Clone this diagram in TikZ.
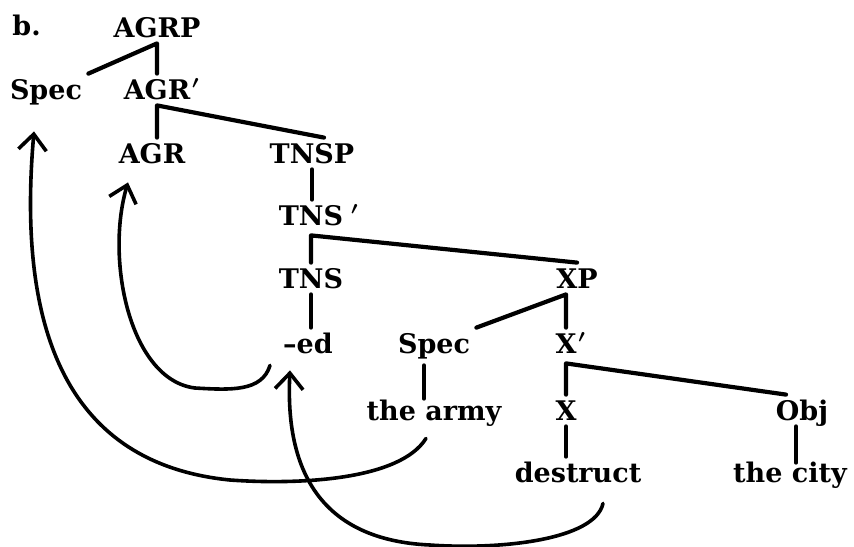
\documentclass[tikz,border=0pt]{standalone}
\usepackage{amsmath}
\usepackage{fontspec}
\newfontfamily\treefont{DejaVu Serif}
\usetikzlibrary{arrows.meta, calc}
\tikzset{
	cat/.style   ={font=\treefont\bfseries\fontsize{13.5}{16}\selectfont, inner sep=3pt, text height=9.5pt, text depth=0pt, anchor=base},
	branch/.style={line width=2.1pt, line cap=round, line join=round},
	move/.style  ={line width=1.8pt, line cap=round, -{Straight Barb[length=8pt, width=14pt]}},
}
\newcommand{\primebar}[1][1pt]{\rlap{\hspace{#1}$^{\boldsymbol\prime}$}}

\begin{document}
\begin{tikzpicture}[x=0.5pt, y=-0.5pt]
	\useasboundingbox (0,0) rectangle (854,546);
	\node[cat, anchor=base west] (lbl) at (6,35) {b.};
	% AGR level
	\node[cat] (agrp)   at (157,37)  {AGRP};
	\node[cat] (spec1)  at (46,99)   {Spec};
	\node[cat] (agrbar) at (157,99)  {AGR\primebar};
	\node[cat] (agr)    at (152,163) {AGR};
	\node[cat] (tnsp)   at (312,163) {TNSP};
	% TNS level
	\node[cat] (tnsbar) at (311,225) {TNS\primebar[4pt]};
	\node[cat] (tns)    at (311,288) {TNS};
	\node[cat] (xp)     at (577,288) {XP};
	\node[cat] (ed)     at (308,353) {\textendash ed};
	% XP level
	\node[cat] (spec2)  at (434,353) {Spec};
	\node[cat] (xbar)   at (566,353) {X\primebar};
	\node[cat] (army)   at (434,420) {the army};
	\node[cat] (x)      at (566,420) {X};
	\node[cat] (obj)    at (802,420) {Obj};
	\node[cat] (destruct) at (578,482) {destruct};
	\node[cat] (city)   at (790,482) {the city};
	% branches
	\draw[branch] (spec1.north east) -- (agrp.south) -- (agrp.south |- agrbar.north);
	\draw[branch] (agrbar.south |- agr.north) -- (agrbar.south) -- ([xshift=6pt]tnsp.north);
	\draw[branch] (tnsp.south) -- (tnsp.south |- tnsbar.north);
	\draw[branch] (tnsbar.south |- tns.north) -- ([yshift=-2pt]tnsbar.south) -- (xp.north);
	\draw[branch] (tns.south) -- (tns.south |- ed.north);
	\draw[branch] (spec2.north east) -- (xp.south -| xbar.north) -- (xbar.north);
	\draw[branch] (xbar.south |- x.north) -- ([yshift=-2pt]xbar.south) -- ([xshift=-8pt]obj.north);
	\draw[branch] ([xshift=-5pt,yshift=-3pt]spec2.south) -- ([xshift=-5pt,yshift=-2pt]spec2.south |- army.north);
	\draw[branch] (x.south) -- (x.south |- destruct.north);
	\draw[branch] ([xshift=-3pt]obj.south) -- ([xshift=-3pt,yshift=-3pt]obj.south |- city.north);
	% movements
	\draw[move] ([xshift=-4pt,yshift=-6pt]army.south) .. controls (400,480) and (300,485) .. (230,480)
		.. controls (80,465) and (15,350) .. ([xshift=-6pt,yshift=-13pt]spec1.south);
	\draw[move] ([xshift=-19pt,yshift=-3pt]ed.south) .. controls (262,392) and (230,390) .. (195,388)
		.. controls (130,380) and (105,260) .. ([xshift=-12pt,yshift=-6.5pt]agr.south);
	\draw[move] ([xshift=12.5pt,yshift=-7.5pt]destruct.south) .. controls (595,540) and (500,550) .. (430,545)
		.. controls (320,540) and (285,470) .. ([xshift=-9pt,yshift=-5.5pt]ed.south);
\end{tikzpicture}
\end{document}
